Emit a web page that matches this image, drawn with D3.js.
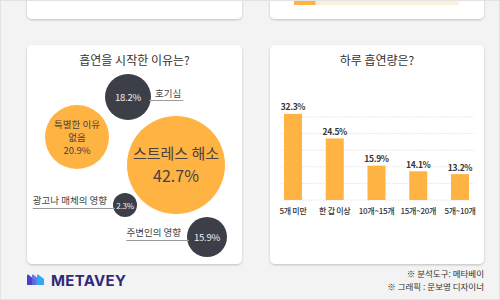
<!DOCTYPE html>
<html><head><meta charset="utf-8">
<script src="https://cdn.jsdelivr.net/npm/d3@7"></script>
<style>
html,body{margin:0;padding:0;background:#f3f3f3;}
svg{display:block;font-family:"Noto Sans CJK KR","Noto Sans",sans-serif;}
</style></head>
<body>
<svg id="c" width="500" height="300"></svg>
<script>
// ---- data ----
const reasonTitle = "흡연을 시작한 이유는?";
const reasons = ["호기심", "특별한 이유 없음", "스트레스 해소", "광고나 매체의 영향", "주변인의 영향"];
const reasonValues = [18.2, 20.9, 42.7, 2.3, 15.9];

const amountTitle = "하루 흡연량은?";
const amounts = ["5개 미만", "한 갑 이상", "10개~15개", "15개~20개", "5개~10개"];
const amountValues = [32.3, 24.5, 15.9, 14.1, 13.2];

const topBarValue = [13];   // partially visible bar of the card above
const footnotes = ["※ 분석도구: 메타베이", "※ 그래픽 : 문보영 디자이너"];
const brand = "METAVEY";

// ---- layout (positions / styles, not data) ----
const bubbleLayout = [
  {cx:128, cy:97,  r:23, fill:"dark",   label:"side-right"},
  {cx:77,  cy:137, r:32, fill:"orange", label:"inside"},
  {cx:176, cy:165, r:49, fill:"orange", label:"inside-big"},
  {cx:125, cy:205, r:12, fill:"dark",   label:"side-left"},
  {cx:207, cy:237, r:20, fill:"dark",   label:"side-left"}
];
const ORANGE = "#ffb343", DARK = "#3c3f48";

const svg = d3.select("#c");
svg.append("rect").attr("x",0).attr("y",0).attr("width",500).attr("height",300).attr("fill","#f3f3f3");

const defs = svg.append("defs");
const f = defs.append("filter").attr("id","sh").attr("x","-5%").attr("y","-5%").attr("width","110%").attr("height","115%");
f.append("feDropShadow").attr("dx",0).attr("dy",1).attr("stdDeviation",0.8).attr("flood-color","#000").attr("flood-opacity",0.22);

function card(x,y,w,h){
  svg.append("rect").attr("x",x).attr("y",y).attr("width",w).attr("height",h)
    .attr("rx",5).attr("fill","#fff").attr("filter","url(#sh)");
}
card(27,-20,215,39);
card(270,-20,214,39);
card(27,45,215,219);
card(270,45,214,219);

// top-right partial progress bar
const topX = d3.scaleLinear().domain([0,100]).range([294,459]);
svg.append("rect").attr("x",topX(0)).attr("y",-5).attr("width",topX(100)-topX(0)).attr("height",10).attr("fill","#fcefdc");
svg.selectAll(".tb").data(topBarValue).join("rect").attr("x",topX(0)).attr("y",-5)
  .attr("width",d=>topX(d)-topX(0)).attr("height",10).attr("fill",ORANGE);

// titles
svg.append("text").attr("x",134.5).attr("y",65).attr("text-anchor","middle").attr("font-size",12)
  .attr("fill","#333").text(reasonTitle);
svg.append("text").attr("x",377).attr("y",65).attr("text-anchor","middle").attr("font-size",12)
  .attr("fill","#333").text(amountTitle);

// ---- bubbles ----
const bubbles = reasons.map((name,i)=>({name, value:reasonValues[i], ...bubbleLayout[i]}));
const bg = svg.append("g");
bg.selectAll("circle").data(bubbles).join("circle")
  .attr("cx",d=>d.cx).attr("cy",d=>d.cy).attr("r",d=>d.r)
  .attr("fill",d=>d.fill==="dark"?DARK:ORANGE);

bubbles.forEach(d=>{
  const pct = d.value + "%";
  if (d.fill === "dark") {
    const fs = d.r < 15 ? 8 : 9.5;
    bg.append("text").attr("x",d.cx).attr("y",d.cy+3.5).attr("text-anchor","middle")
      .attr("font-size",fs).attr("fill","#eeeeee").attr("letter-spacing",-0.2).text(pct);
    if (d.label === "side-right") {
      const tx = d.cx + d.r + 4;
      const t = bg.append("text").attr("x",tx).attr("y",d.cy).attr("font-size",9.5).attr("fill","#444").text(d.name);
      const w = t.node().getComputedTextLength();
      bg.append("line").attr("x1",d.cx+d.r-2).attr("x2",tx+w+2).attr("y1",d.cy+3.5).attr("y2",d.cy+3.5)
        .attr("stroke","#999").attr("stroke-width",1);
    } else {
      const t = bg.append("text").attr("x",d.cx-d.r-6).attr("y",d.cy-1).attr("text-anchor","end")
        .attr("font-size",9.5).attr("fill","#444").text(d.name);
      const w = t.node().getComputedTextLength();
      bg.append("line").attr("x1",d.cx-d.r-6-w).attr("x2",d.cx-d.r+2).attr("y1",d.cy+3.5).attr("y2",d.cy+3.5)
        .attr("stroke","#999").attr("stroke-width",1);
    }
  } else if (d.label === "inside") {
    const parts = d.name.split(" ");
    const lines = [parts.slice(0,2).join(" "), parts.slice(2).join(" "), pct];
    lines.forEach((s,k)=>{
      bg.append("text").attr("x",d.cx).attr("y",d.cy-9+k*13).attr("text-anchor","middle")
        .attr("font-size",9.5).attr("fill","#4a4140").text(s);
    });
  } else {
    bg.append("text").attr("x",d.cx).attr("y",d.cy-6).attr("text-anchor","middle")
      .attr("font-size",15).attr("fill","#4a4140").text(d.name);
    bg.append("text").attr("x",d.cx).attr("y",d.cy+17).attr("text-anchor","middle")
      .attr("font-size",16).attr("fill","#4a4140").text(pct);
  }
});

// ---- bar chart ----
const x = d3.scaleBand().domain(amounts).range([284,469]).paddingInner(0.569).paddingOuter(0);
const y = d3.scaleLinear().domain([5,31.3]).range([200,117]);
const gridVals = d3.range(6).map(i=>5 + i*(31.3-5)/5);
const g = svg.append("g");
g.selectAll(".grid").data(gridVals).join("line")
  .attr("x1",281).attr("x2",474).attr("y1",d=>y(d)).attr("y2",d=>y(d))
  .attr("stroke","#d8d8d8").attr("stroke-width",0.8).attr("stroke-dasharray","1.5,1.5");
const bars = amounts.map((name,i)=>({name, value:amountValues[i]}));
g.selectAll(".bar").data(bars).join("rect")
  .attr("x",d=>x(d.name)).attr("width",x.bandwidth())
  .attr("y",d=>y(d.value)).attr("height",d=>y(5)-y(d.value)).attr("fill",ORANGE);
g.selectAll(".vl").data(bars).join("text")
  .attr("x",d=>x(d.name)+x.bandwidth()/2).attr("y",d=>y(d.value)-3.5)
  .attr("text-anchor","middle").attr("font-size",8.5).attr("font-weight",700).attr("fill","#333")
  .attr("letter-spacing",-0.3).text(d=>d.value+"%");
const xa = g.append("g").attr("transform","translate(0,200)")
  .call(d3.axisBottom(x).tickSize(0).tickPadding(8));
xa.select(".domain").remove();
xa.selectAll("text").attr("font-size",8).attr("font-weight",500).attr("fill","#333").attr("letter-spacing",-0.3)
  .attr("font-family","'Noto Sans CJK KR',sans-serif");

// ---- footer ----
const logo = svg.append("g").attr("transform","translate(27,274)");
logo.append("path").attr("d","M0,11 L0,1.5 Q0,0 1.5,0.8 L8,6 L8,11 Z").attr("fill","#4b3fcf");
logo.append("path").attr("d","M5,11 L5,1 Q5,0 6.5,0.8 L13,6 L13,11 Z").attr("fill","#5a6ce0").attr("opacity",0.9);
logo.append("path").attr("d","M10,11 L10,1 Q10,0 11.5,0.8 L17,5 L17,11 Z").attr("fill","#2fa9ef");
svg.append("text").attr("x",51).attr("y",285.5).attr("font-size",15).attr("font-weight",700)
  .attr("fill","#2f2a7a").attr("font-family","Inter,'Noto Sans',sans-serif").attr("letter-spacing",0.3).text(brand);

svg.selectAll(".fn").data(footnotes).join("text")
  .attr("x",484).attr("y",(d,i)=>277+i*12.5).attr("text-anchor","end")
  .attr("font-size",8.5).attr("fill","#333").text(d=>d);

svg.append("rect").attr("x",0.5).attr("y",0.5).attr("width",499).attr("height",299)
  .attr("fill","none").attr("stroke","#e2e2e2");
</script>
</body></html>
